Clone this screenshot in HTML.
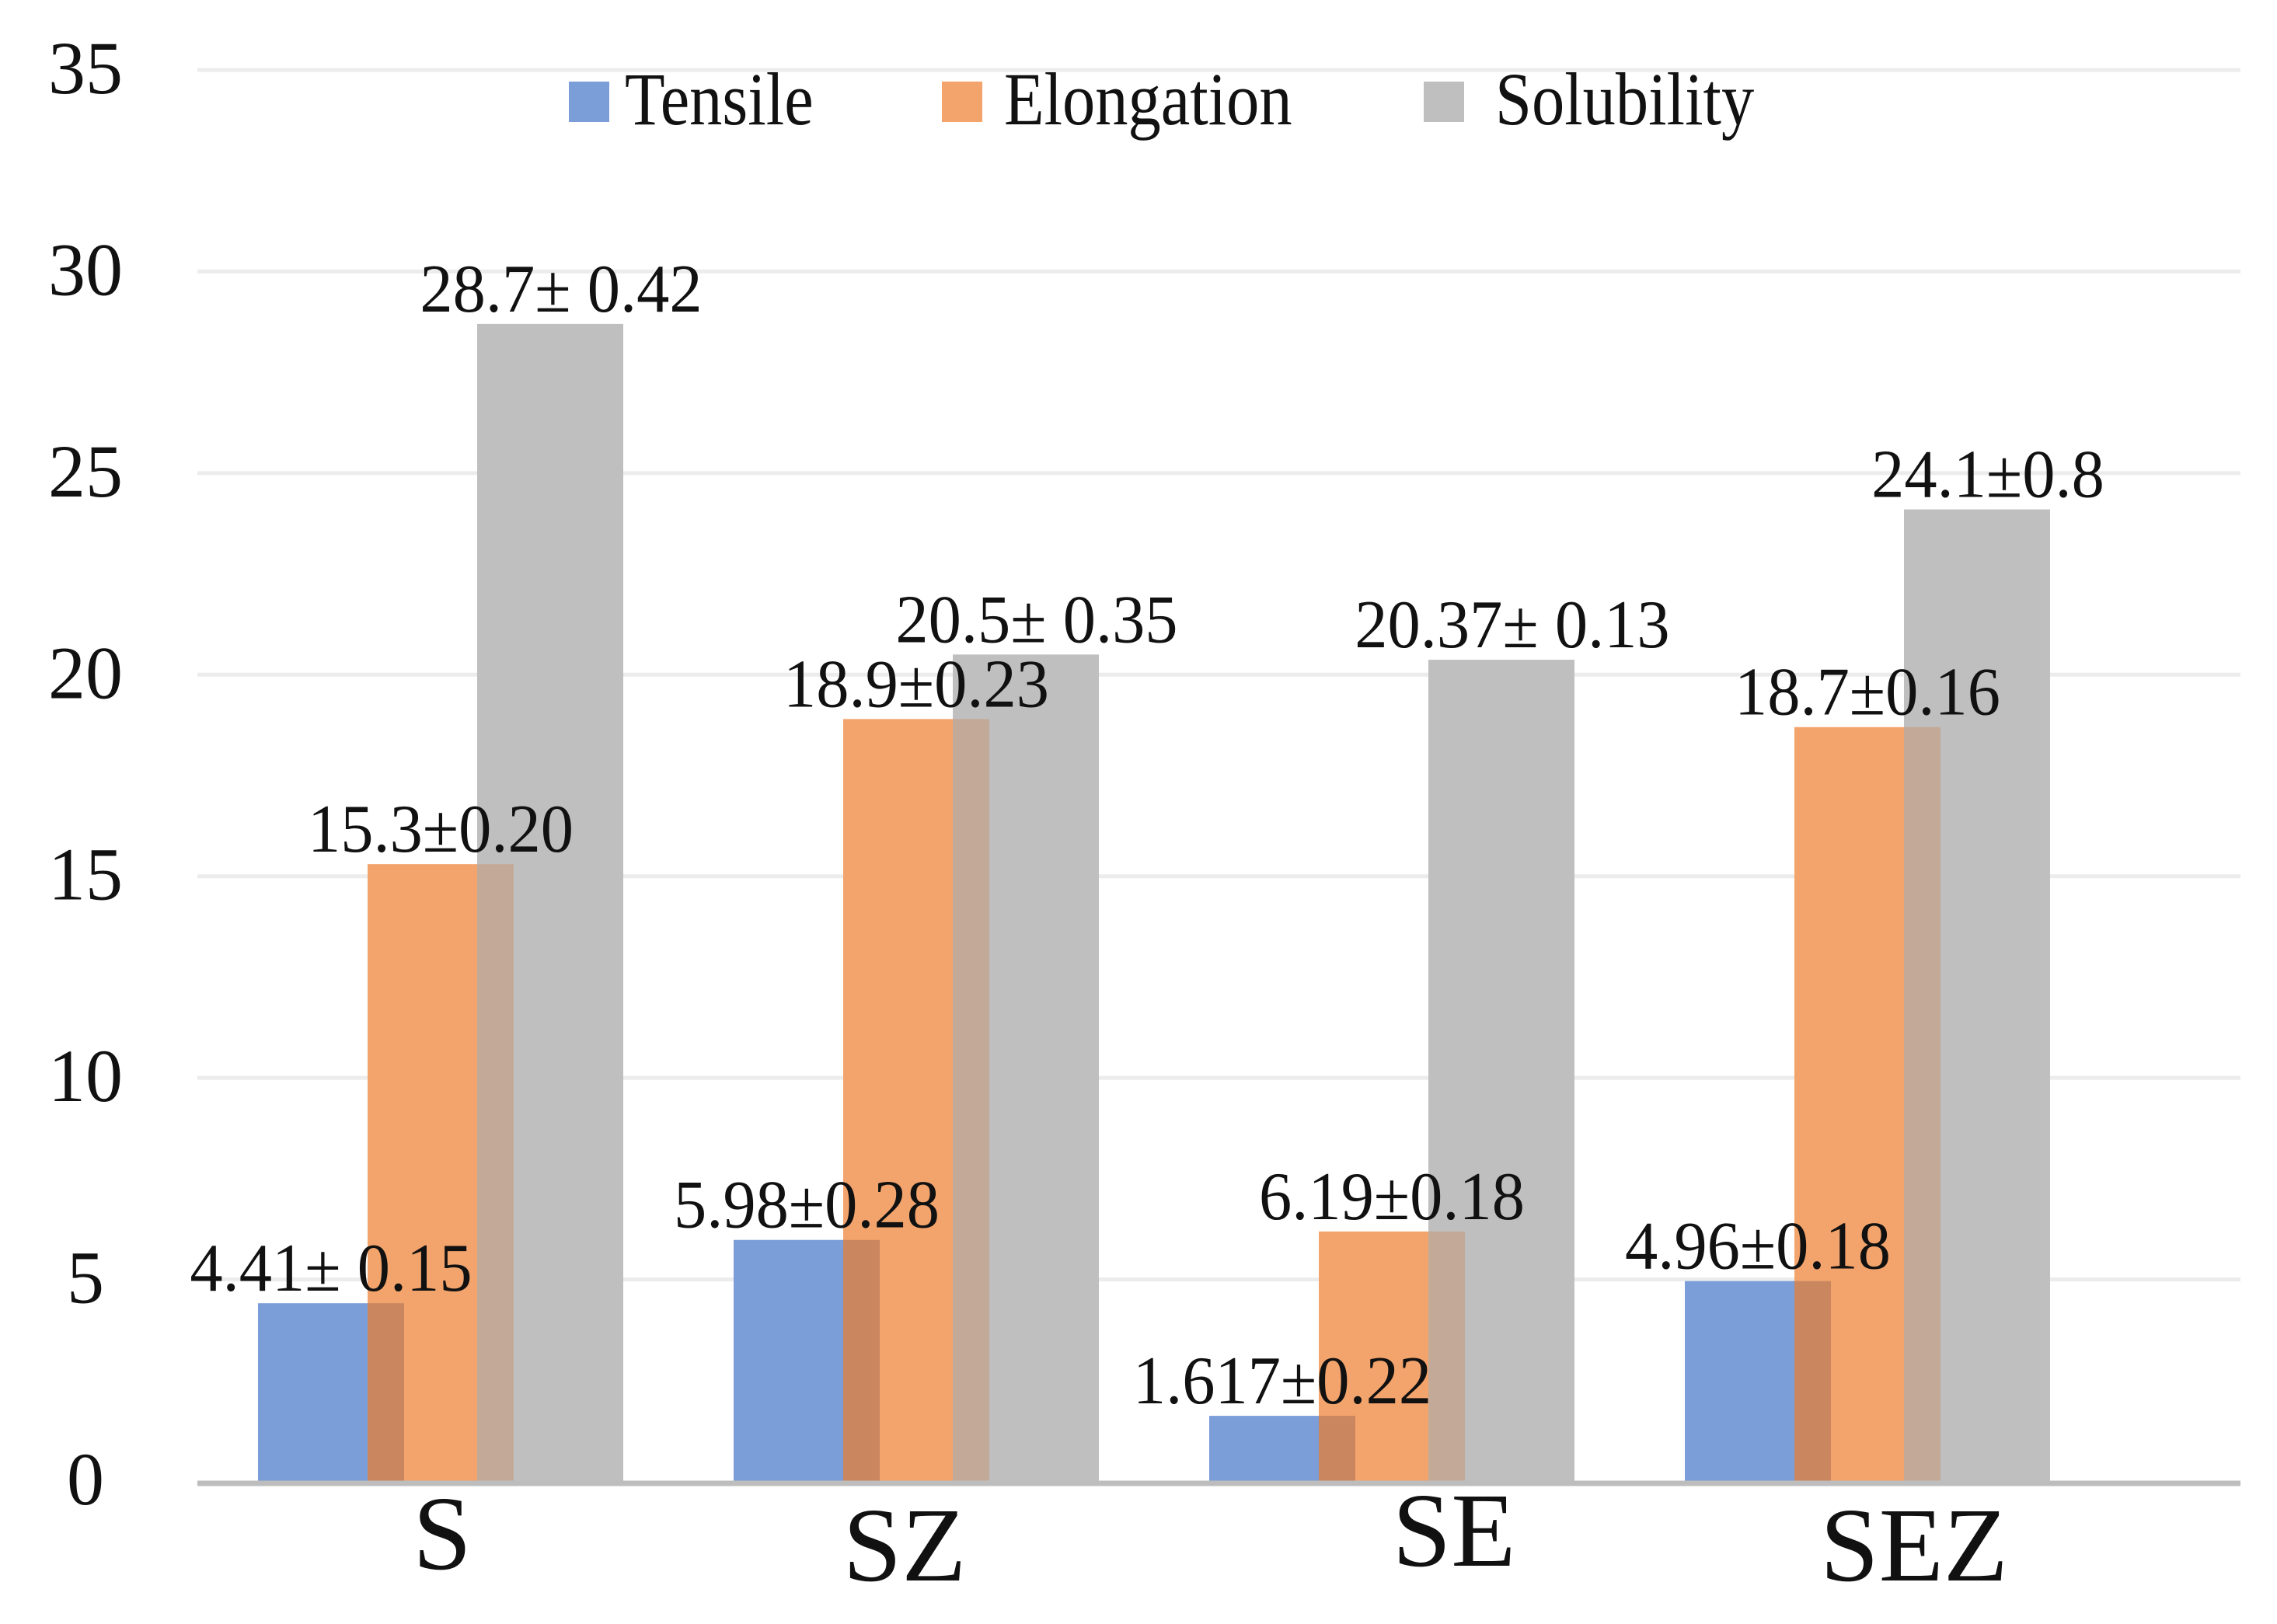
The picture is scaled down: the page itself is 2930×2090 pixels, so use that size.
<!DOCTYPE html>
<html><head><meta charset="utf-8"><style>
html,body{margin:0;padding:0;background:#fff}
svg{display:block}
text{font-family:"Liberation Serif",serif;fill:#111}
</style></head><body>
<svg id="chart" width="2930" height="2090" viewBox="0 0 2930 2090" xmlns="http://www.w3.org/2000/svg">
<g id="grid"></g>
<g id="yaxis"></g>
<g id="bars"></g>
<g id="labels"></g>
<g id="xaxis"></g>
<g id="legend"></g>
</svg>
<script>
const categories = ["S", "SZ", "SE", "SEZ"];
const seriesNames = ["Tensile", "Elongation", "Solubility"];
const tensile = [4.41, 5.98, 1.617, 4.96];
const elongation = [15.3, 18.9, 6.19, 18.7];
const solubility = [28.7, 20.5, 20.37, 24.1];
const tensileLabels = ["4.41\u00b1 0.15", "5.98\u00b10.28", "1.617\u00b10.22", "4.96\u00b10.18"];
const elongationLabels = ["15.3\u00b10.20", "18.9\u00b10.23", "6.19\u00b10.18", "18.7\u00b10.16"];
const solubilityLabels = ["28.7\u00b1 0.42", "20.5\u00b1 0.35", "20.37\u00b1 0.13", "24.1\u00b10.8"];
const yTicks = [0, 5, 10, 15, 20, 25, 30, 35];

const NS = "http://www.w3.org/2000/svg";
const colors = ["#7b9ed8", "#f3a46c", "#bfbfbf"];
const overlapColors = ["#c9865f", "#c3aa98"];
const y0 = 1906, yTop = 90, vMax = 35;
function yScale(v){ return y0 - v * (y0 - yTop) / vMax; }
const groupStart = 332, groupStep = 612, barStep = 141, barW = 188;
function xBar(ci, si){ return groupStart + ci * groupStep + si * barStep; }
function mk(tag, attrs, parent){
  const e = document.createElementNS(NS, tag);
  for (const k in attrs) e.setAttribute(k, attrs[k]);
  parent.appendChild(e); return e;
}
const grid = document.getElementById("grid");
const yaxis = document.getElementById("yaxis");
yTicks.forEach(t => {
  if (t > 0) {
    const l = mk("line", {x1:254, x2:2883, y1:yScale(t), y2:yScale(t), stroke:"#ececec", "stroke-width":5}, grid);
    
    
  }
  const tx = mk("text", {x:110, y:yScale(t)+30, "font-size":96, "text-anchor":"middle"}, yaxis);
  tx.textContent = t;
  
  
});
const bars = document.getElementById("bars");
const labelsG = document.getElementById("labels");
const series = [tensile, elongation, solubility];
const seriesLabels = [tensileLabels, elongationLabels, solubilityLabels];
categories.forEach((c, ci) => {
  series.forEach((vals, si) => {
    const x = xBar(ci, si), y = yScale(vals[ci]);
    const r = mk("rect", {x:x, y:y, width:barW, height:y0 - y, fill:colors[si]}, bars);
    
    
  });
  for (let si = 0; si < 2; si++) {
    const h = Math.min(series[si][ci], series[si+1][ci]);
    const x = xBar(ci, si+1), y = yScale(h);
    const o = mk("rect", {x:x, y:y, width:barW - barStep, height:y0 - y, fill:overlapColors[si]}, bars);
    
    
  }
  series.forEach((vals, si) => {
    const cx = xBar(ci, si) + barW/2 + (si === 2 ? 14 : 0), y = yScale(vals[ci]);
    const t = mk("text", {x:cx, y:y - 16, "font-size":88, "text-anchor":"middle", transform:"translate("+cx+",0) scale(0.96,1) translate("+(-cx)+",0)"}, labelsG);
    t.textContent = seriesLabels[si][ci];
    
    
  });
});
const xaxis = document.getElementById("xaxis");
const base = mk("line", {x1:254, x2:2883, y1:y0+3, y2:y0+3, stroke:"#bdbdbd", "stroke-width":7}, xaxis);


const catDx = [2, -15, 80, 60];
const catY = [2019, 2034, 2015, 2034];
categories.forEach((c, ci) => {
  const cx = xBar(ci, 1) + barW/2 + catDx[ci];
  const t = mk("text", {x:cx, y:catY[ci], "font-size":136, "text-anchor":"middle"}, xaxis);
  t.textContent = c;
  
  
});
const legend = document.getElementById("legend");
const legX = [732, 1212, 1832], legTX = [804, 1292, 1924];
seriesNames.forEach((n, i) => {
  const g = mk("g", {}, legend);
  
  
  const s = mk("rect", {x:legX[i], y:105, width:52, height:52, fill:colors[i]}, g);
  
  
  const t = mk("text", {x:legTX[i], y:160, "font-size":96, transform:"translate("+legTX[i]+",0) scale(0.88,1) translate("+(-legTX[i])+",0)"}, g);
  t.textContent = n;
  
  
});
</script>
</body></html>
